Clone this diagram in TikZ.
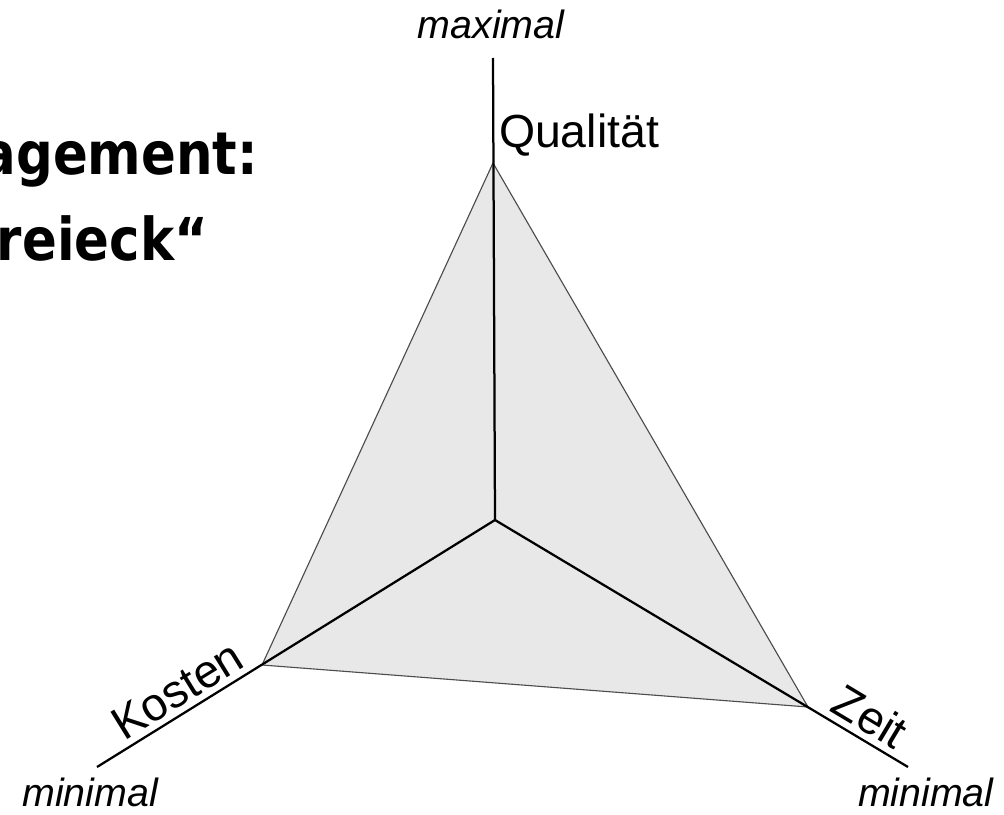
\documentclass[tikz,border=0pt]{standalone}
\usepackage{fontspec}
\setmainfont{Liberation Sans}
\newfontfamily\titlefont{DejaVu Sans}
\begin{document}
\begin{tikzpicture}[x=0.025cm,y=-0.025cm,inner sep=0pt,outer sep=0pt,
 axis/.style={draw,line width=1.6pt},
 face/.style={fill=black!9,draw=black!70,line width=0.8pt,line join=round},
 dimlabel/.style={font=\fontsize{33}{40}\selectfont},
 endlabel/.style={font=\fontsize{28}{34}\selectfont\itshape},
 titletext/.style={font=\titlefont\bfseries\fontsize{42}{50}\selectfont}]
\useasboundingbox (0,0) rectangle (1004,814);
\coordinate (O) at (495,520);
\coordinate (Q) at (493,163);
\coordinate (K) at (262,665);
\coordinate (Z) at (808,707);
\coordinate (Qend) at (493,58);
\coordinate (Kend) at (97,767);
\coordinate (Zend) at (908,767);

% Dreieck und Achsen
\draw[face] (Q) -- (K) -- (Z) -- cycle;
\draw[axis] (Qend) -- (O) -- (Kend);
\draw[axis] (O) -- (Zend);

\node[dimlabel,anchor=base west] (qual) at (499,148) {Qualität};
\path (Kend) -- (K) node[dimlabel,pos=0.56,sloped,above=5pt] (kost) {Kosten};
\path (Z) -- (Zend) node[dimlabel,midway,sloped,above=5pt] (zeit) {Zeit};

\node[endlabel,anchor=base] (qmax) at (491,39) {maximal};
\node[endlabel,anchor=base east] (kmin) at (158,806) {minimal};
\node[endlabel,anchor=base west] (zmin) at (858,806) {minimal};

% Titel (abgeschnitten)
\node[titletext,anchor=base east] (t1) at (258,175) {\scalebox{0.87}[1]{agement:}};
\node[titletext,anchor=base east] (t2) at (208,260) {\scalebox{0.87}[1]{reieck“}};
\end{tikzpicture}
\end{document}
